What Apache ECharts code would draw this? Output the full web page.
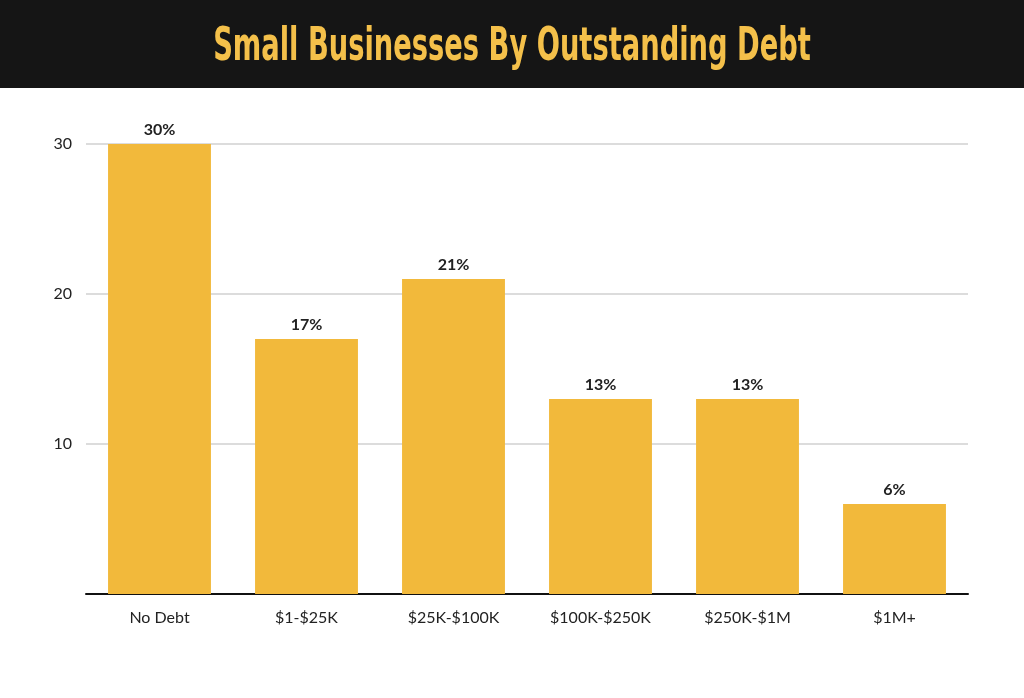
<!DOCTYPE html>
<html><head><meta charset="utf-8">
<script src="https://cdn.jsdelivr.net/npm/echarts@6/dist/echarts.min.js"></script>
<style>html,body{margin:0;padding:0;background:#fff}#c{width:1024px;height:698px}</style>
</head><body><div id="c"></div>
<script>
const categories = ['No Debt', '$1-$25K', '$25K-$100K', '$100K-$250K', '$250K-$1M', '$1M+'];
const values = [30, 17, 21, 13, 13, 6];
const yTicks = { min: 0, max: 30, interval: 10 };
const titleText = 'Small Businesses By Outstanding Debt';

const chart = echarts.init(document.getElementById('c'));
chart.setOption({
  backgroundColor: '#fff',
  animation: false,
  graphic: [
    { type: 'rect', left: 0, top: 0, z: -1, shape: { width: 1024, height: 88 }, style: { fill: '#151515' } },
    { type: 'text', x: 512, y: 48, scaleX: 0.66, scaleY: 1, z: 10,
      style: { text: titleText, fill: '#F4C04A', font: 'bold 46px "DejaVu Sans Condensed", "DejaVu Sans"',
               textAlign: 'center', textVerticalAlign: 'middle' } }
  ],
  grid: { left: 86, right: 56, top: 144, bottom: 104 },
  xAxis: {
    type: 'category', data: categories,
    axisLine: { lineStyle: { color: '#111', width: 2 } },
    axisTick: { show: false },
    axisLabel: { color: '#222', fontFamily: 'Lato', fontSize: 16, margin: 16 }
  },
  yAxis: {
    type: 'value', min: yTicks.min, max: yTicks.max, interval: yTicks.interval,
    axisLine: { show: false }, axisTick: { show: false },
    splitLine: { lineStyle: { color: '#d0d0d0', width: 1.5 } },
    axisLabel: { color: '#222', fontFamily: 'Lato', fontSize: 16, margin: 14, showMinLabel: false }
  },
  series: [{
    type: 'bar', data: values, barCategoryGap: '30%',
    itemStyle: { color: '#F2B93B' },
    label: { show: true, position: 'top', formatter: '{c}%', color: '#222', fontFamily: 'Lato', fontWeight: 'bold', fontSize: 16, distance: 6 }
  }]
});
</script></body></html>
